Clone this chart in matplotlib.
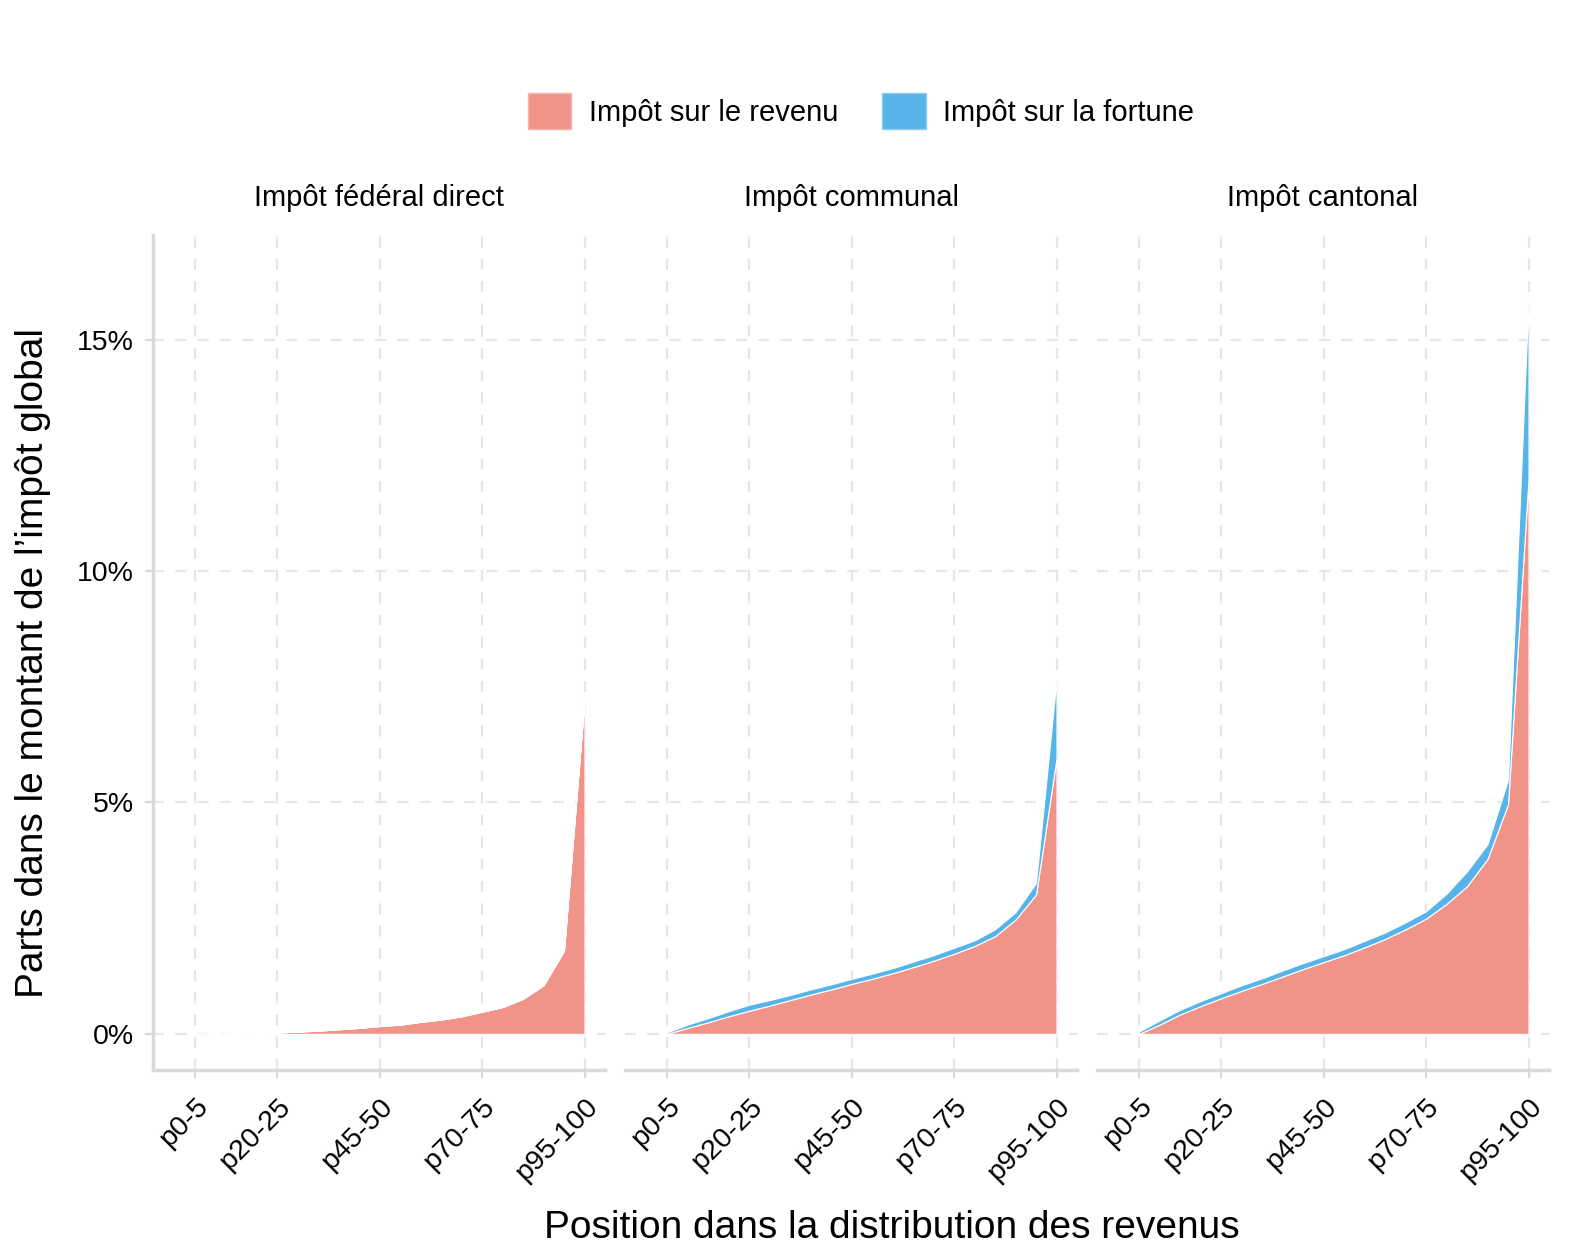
import matplotlib
matplotlib.use("Agg")
import matplotlib.pyplot as plt
import numpy as np
from matplotlib.patches import Patch

plt.rcParams['font.family'] = ['Liberation Sans', 'DejaVu Sans']

# percentile groups p0-5 ... p95-100
groups = [f"p{a}-{a + 5}" for a in range(0, 100, 5)]
tick_idx = [0, 4, 9, 14, 19]

panels = ["Impôt fédéral direct", "Impôt communal", "Impôt cantonal"]

# shares (%) of total tax, income tax part
federal_revenu = [0.0, 0.0, 0.003, 0.01, 0.03, 0.05, 0.07, 0.10, 0.13, 0.17,
                  0.20, 0.26, 0.31, 0.38, 0.48, 0.58, 0.76, 1.05, 1.80, 7.23]
federal_fortune = [0.0] * 20

communal_revenu = [0.0, 0.13, 0.25, 0.38, 0.50, 0.61, 0.73, 0.85, 0.96, 1.08,
                   1.19, 1.31, 1.44, 1.58, 1.73, 1.90, 2.11, 2.47, 3.01, 5.95]
communal_fortune = [0.03, 0.07, 0.09, 0.11, 0.13, 0.12, 0.11, 0.11, 0.11, 0.11,
                    0.11, 0.11, 0.12, 0.12, 0.13, 0.12, 0.15, 0.16, 0.25, 1.70]

cantonal_revenu = [0.0, 0.20, 0.42, 0.60, 0.77, 0.93, 1.08, 1.24, 1.40, 1.55,
                   1.70, 1.87, 2.05, 2.26, 2.49, 2.81, 3.19, 3.78, 4.96, 12.0]
cantonal_fortune = [0.05, 0.09, 0.10, 0.11, 0.11, 0.12, 0.12, 0.13, 0.13, 0.13,
                    0.13, 0.14, 0.14, 0.15, 0.16, 0.22, 0.32, 0.32, 0.53, 3.85]

revenu = [federal_revenu, communal_revenu, cantonal_revenu]
fortune = [federal_fortune, communal_fortune, cantonal_fortune]

red = '#F0948A'
blue = '#56B4E9'
grid_col = '#E6E6E6'
axis_col = '#D9D9D9'

W, H = 1574, 1259
fig = plt.figure(figsize=(W / 100, H / 100), dpi=100)

lefts = [153, 625, 1097]
pw = 452
top_px, bot_px = 235, 1070
x = np.arange(len(groups))

for k, title in enumerate(panels):
    ax = fig.add_axes([lefts[k] / W, 1 - bot_px / H, pw / W, (bot_px - top_px) / H])
    ax.set_xlim(-2.05, 20.0)
    ax.set_ylim(-0.78, 17.26)
    for t in tick_idx:
        ax.axvline(t, color=grid_col, lw=1.6, ls=(0, (5, 5)), zorder=0)
    for v in [0, 5, 10, 15]:
        ax.axhline(v, color=grid_col, lw=1.6, ls=(0, (5, 5)), zorder=0)
    ax.stackplot(x, revenu[k], fortune[k], colors=[red, blue],
                 edgecolor='white', linewidth=0.8, zorder=2)

    for s in ['top', 'right']:
        ax.spines[s].set_visible(False)
    ax.spines['bottom'].set_color(axis_col)
    ax.spines['bottom'].set_linewidth(2.5)
    ax.set_xticks(tick_idx)
    ax.set_xticklabels([groups[i] for i in tick_idx], rotation=45, ha='right',
                       rotation_mode='anchor', fontsize=20.5)
    ax.tick_params(axis='x', colors=axis_col, length=6, width=1.6, pad=11,
                   labelcolor='black')
    if k == 0:
        ax.spines['left'].set_color(axis_col)
        ax.spines['left'].set_linewidth(2.5)
        ax.set_yticks([0, 5, 10, 15])
        ax.set_yticklabels(['0%', '5%', '10%', '15%'], fontsize=20.5)
        ax.tick_params(axis='y', colors=axis_col, length=6, width=1.6, pad=8,
                       labelcolor='black')
    else:
        ax.spines['left'].set_visible(False)
        ax.set_yticks([0, 5, 10, 15])
        ax.tick_params(axis='y', length=0, labelleft=False)
    ax.set_facecolor('white')
    ax.text(0.5, 1 + 37 / (bot_px - top_px), title, transform=ax.transAxes,
            ha='center', va='center', fontsize=21)

handles = [Patch(facecolor=red, edgecolor='#F4B3AB', label='Impôt sur le revenu'),
           Patch(facecolor=blue, edgecolor='#8CCDF0', label='Impôt sur la fortune')]
fig.legend(handles=handles, loc='center', bbox_to_anchor=(0.547, 1 - 111 / H),
           ncol=2, frameon=False, fontsize=21, handlelength=1.5, handleheight=1.5,
           columnspacing=1.5, handletextpad=0.6)

fig.text(33 / W, 1 - 663 / H, "Parts dans le montant de l’impôt global",
         rotation=90, ha='center', va='center', fontsize=28)
fig.text(892 / W, 1 - 1228 / H, "Position dans la distribution des revenus",
         ha='center', va='center', fontsize=28)

fig.savefig("out.png", dpi=100, facecolor='white')
